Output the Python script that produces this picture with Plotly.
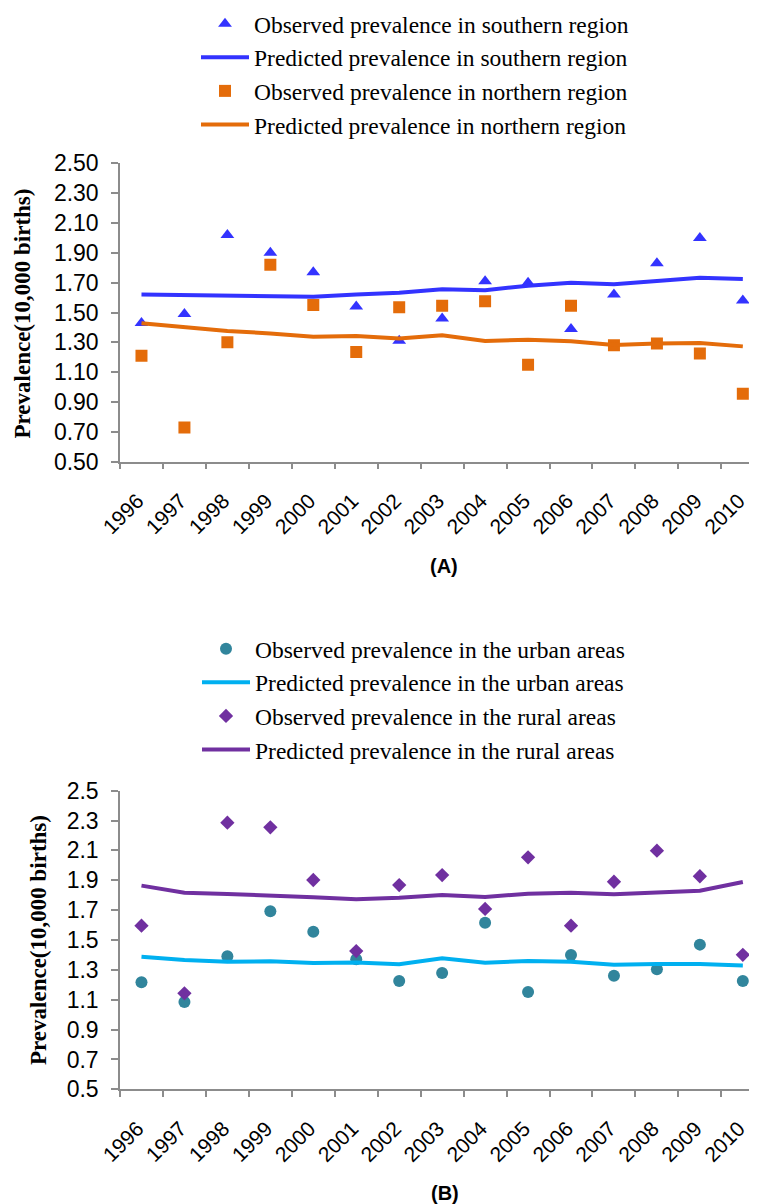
import plotly.graph_objects as go

years = [str(y) for y in range(1996, 2011)]

# Panel A
obs_south = [1.43, 1.49, 2.02, 1.90, 1.77, 1.54, 1.31, 1.46, 1.71, 1.70, 1.39, 1.62, 1.83, 2.00, 1.58]
pred_south = [1.62, 1.615, 1.613, 1.61, 1.606, 1.62, 1.633, 1.655, 1.649, 1.68, 1.70, 1.689, 1.709, 1.733, 1.725]
obs_north = [1.21, 0.73, 1.30, 1.82, 1.55, 1.235, 1.535, 1.546, 1.575, 1.15, 1.546, 1.28, 1.293, 1.226, 0.956]
pred_north = [1.428, 1.40, 1.376, 1.36, 1.338, 1.343, 1.325, 1.347, 1.309, 1.318, 1.307, 1.282, 1.293, 1.295, 1.273]

# Panel B
obs_urban = [1.217, 1.085, 1.391, 1.692, 1.556, 1.371, 1.225, 1.279, 1.616, 1.152, 1.40, 1.261, 1.304, 1.469, 1.225]
pred_urban = [1.388, 1.366, 1.355, 1.357, 1.346, 1.35, 1.337, 1.377, 1.348, 1.359, 1.355, 1.335, 1.339, 1.339, 1.33]
obs_rural = [1.596, 1.143, 2.286, 2.255, 1.902, 1.426, 1.868, 1.935, 1.708, 2.054, 1.596, 1.89, 2.098, 1.927, 1.401]
pred_rural = [1.864, 1.817, 1.808, 1.80, 1.786, 1.773, 1.783, 1.801, 1.788, 1.81, 1.817, 1.806, 1.817, 1.83, 1.888]

ticks_a = [0.5, 0.7, 0.9, 1.1, 1.3, 1.5, 1.7, 1.9, 2.1, 2.3, 2.5]

BLUE = "#3333FF"
ORANGE = "#E46C0A"
TEAL = "#31859C"
CYAN = "#00B0F0"
PURPLE = "#7030A0"
GREY = "#8C8C8C"

fig = go.Figure()

fig.add_trace(go.Scatter(x=years, y=obs_south, mode="markers", name="Observed prevalence in southern region",
                         marker=dict(symbol="triangle-up", size=12, color=BLUE), xaxis="x", yaxis="y", legend="legend"))
fig.add_trace(go.Scatter(x=years, y=pred_south, mode="lines", name="Predicted prevalence in southern region",
                         line=dict(color=BLUE, width=4), xaxis="x", yaxis="y", legend="legend"))
fig.add_trace(go.Scatter(x=years, y=obs_north, mode="markers", name="Observed prevalence in northern region",
                         marker=dict(symbol="square", size=12, color=ORANGE), xaxis="x", yaxis="y", legend="legend"))
fig.add_trace(go.Scatter(x=years, y=pred_north, mode="lines", name="Predicted prevalence in northern region",
                         line=dict(color=ORANGE, width=4), xaxis="x", yaxis="y", legend="legend"))

fig.add_trace(go.Scatter(x=years, y=obs_urban, mode="markers", name="Observed prevalence in the urban areas",
                         marker=dict(symbol="circle", size=12, color=TEAL), xaxis="x2", yaxis="y2", legend="legend2"))
fig.add_trace(go.Scatter(x=years, y=pred_urban, mode="lines", name="Predicted prevalence in the urban areas",
                         line=dict(color=CYAN, width=4), xaxis="x2", yaxis="y2", legend="legend2"))
fig.add_trace(go.Scatter(x=years, y=obs_rural, mode="markers", name="Observed prevalence in the rural areas",
                         marker=dict(symbol="diamond", size=11, color=PURPLE), xaxis="x2", yaxis="y2", legend="legend2"))
fig.add_trace(go.Scatter(x=years, y=pred_rural, mode="lines", name="Predicted prevalence in the rural areas",
                         line=dict(color=PURPLE, width=4), xaxis="x2", yaxis="y2", legend="legend2"))

W, H = 757, 1204
OFF = 8  # page body margin offset
xdom = [(120 - OFF) / W, (757 - OFF) / W]

def xax(anchor):
    return dict(domain=xdom, type="category", range=[-0.5, 14.33], tickson="boundaries", automargin=False,
                showline=True, linecolor=GREY, linewidth=1.5, ticks="outside", ticklen=6, tickcolor=GREY,
                tickwidth=1.5, tickangle=-45, tickfont=dict(family="Liberation Sans", size=21, color="black"),
                showgrid=False, zeroline=False, anchor=anchor, ticklabelstandoff=17, ticklabelshift=-4,
                fixedrange=True)

def yax(top, bottom, anchor, fmt):
    dom = [1 - (bottom - OFF) / H, 1 - (top - OFF) / H]
    return dict(domain=dom, range=[0.5, 2.5], tickvals=ticks_a, tickformat=fmt, automargin=False,
                showline=True, linecolor=GREY, linewidth=1.5, ticks="outside", ticklen=7, tickcolor=GREY,
                tickwidth=1.5, tickfont=dict(family="Liberation Sans", size=23, color="black"),
                showgrid=False, zeroline=False, anchor=anchor, ticklabelstandoff=8, fixedrange=True)

legend_common = dict(bgcolor="rgba(0,0,0,0)", font=dict(family="Liberation Serif", size=23.5, color="black"),
                     itemwidth=48, xanchor="left", yanchor="top", tracegroupgap=0)

def px(x):
    return (x - OFF) / W

def py(y):
    return 1 - (y - OFF) / H

title_font = dict(family="Liberation Serif", size=23, color="black")
panel_font = dict(family="Liberation Sans", size=20, color="black")

fig.update_layout(
    template=None,
    width=W, height=H, autosize=False,
    margin=dict(l=0, r=0, t=0, b=0, autoexpand=False),
    paper_bgcolor="white", plot_bgcolor="white",
    xaxis=xax("y"),
    yaxis=yax(163.3, 461.7, "x", ".2f"),
    xaxis2=xax("y2"),
    yaxis2=yax(790.7, 1089.3, "x2", ".1f"),
    legend=dict(x=px(196), y=py(2), **legend_common),
    legend2=dict(x=px(197), y=py(627), **legend_common),
    annotations=[
        dict(text="<b>Prevalence(10,000 births)</b>", x=px(22), y=py(313.5), xref="paper", yref="paper",
             xanchor="center", yanchor="middle", textangle=-90, showarrow=False, font=title_font),
        dict(text="<b>Prevalence(10,000 births)</b>", x=px(38), y=py(940), xref="paper", yref="paper",
             xanchor="center", yanchor="middle", textangle=-90, showarrow=False, font=title_font),
        dict(text="<b>(A)</b>", x=px(444), y=py(566), xref="paper", yref="paper",
             xanchor="center", yanchor="middle", showarrow=False, font=panel_font),
        dict(text="<b>(B)</b>", x=px(445), y=py(1193), xref="paper", yref="paper",
             xanchor="center", yanchor="middle", showarrow=False, font=panel_font),
    ],
)

fig.write_html("out.html")
